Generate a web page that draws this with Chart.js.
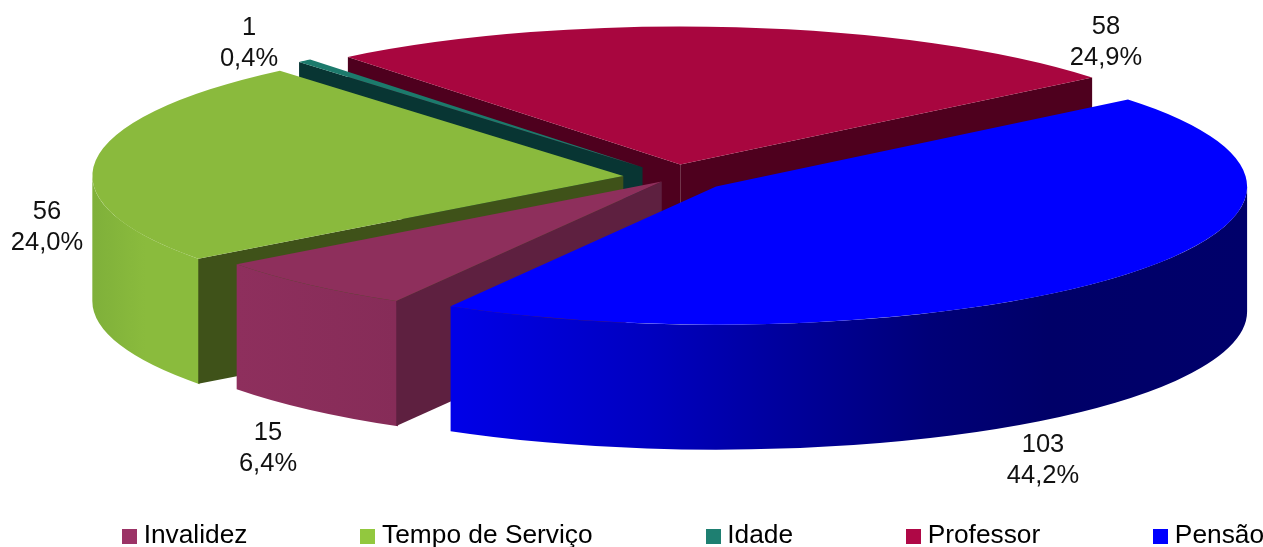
<!DOCTYPE html>
<html><head><meta charset="utf-8">
<style>html,body{margin:0;padding:0;background:#fff}canvas{display:block}</style>
<script src="https://cdn.jsdelivr.net/npm/chart.js@4"></script>
</head><body>
<div style="width:1263px;height:547px"><canvas id="c" width="1263" height="547"></canvas></div>
<script>
const categories = ['Invalidez','Tempo de Serviço','Idade','Professor','Pensão'];
const values = [15,56,1,58,103];
const topColors = ['#8E2F5C','#8ABA3D','#1C7A6C','#A8063F','#0000FF'];
const legendColors = ['#9B3366','#92C83E','#1E7F71','#AF0846','#0000FF'];
const cutColors = ['#5E2040','#3F5219','#083533','#4E001E','#00006E'];
const wallStops = [
  [[0,'#8E2F5D'],[1,'#862C58']],
  [[0,'#7FB03A'],[0.5,'#8ABB3D'],[1,'#8ABB3D']],
  [[0,'#1C7A6C'],[1,'#1C7A6C']],
  [[0,'#A8063F'],[1,'#A8063F']],
  [[0,'#0000E8'],[0.25,'#0000C0'],[0.4,'#0000A0'],[0.6,'#000078'],[0.75,'#000068'],[1,'#00006A']]
];
const explode = [20,52,51,50,54];
const drawOrder = [3,2,1,0,4];
const labelPos = [[268,433],[47,212],[249,28],[1106,27],[1043,445]];
const pieCenter = [675,177.5];
const squash = 0.26, depth = 125, outerR = 531;
const total = values.reduce((a,b)=>a+b,0);
const FONT = '"Liberation Sans", Arial, sans-serif';

function tile(color){
  const t=document.createElement('canvas');t.width=15;t.height=15;
  const g=t.getContext('2d');g.fillStyle=color;g.fillRect(0,0,15,15);return t;
}

const pie3d = {
  id:'pie3d',
  afterLayout(chart){ chart.legend.top = 527 - 119.5 - 4; },
  beforeDatasetsDraw(chart){
    const ctx=chart.ctx, arcs=chart.getDatasetMeta(0).data;
    drawOrder.forEach(i=>{
      const arc=arcs[i];
      const {startAngle:a,endAngle:b,outerRadius:R,x,y}=arc;
      const mid=(a+b)/2, d=explode[i];
      const cx=pieCenter[0]+Math.cos(mid)*d, cy=pieCenter[1]+Math.sin(mid)*d*squash;
      const ry=R*squash;
      const a0=Math.atan2(Math.sin(a),Math.cos(a)), sweep=b-a;
      const showStart=Math.cos(a)<0, showEnd=Math.cos(b)>0;
      const lo=Math.max(a0,0), hi=Math.min(a0+sweep,Math.PI);
      if(hi>lo){
        const lo2=(showStart&&lo===a0)?lo-0.004:lo;
        const hi2=(showEnd&&hi===a0+sweep)?hi+0.004:hi;
        const g=ctx.createLinearGradient(cx+R*Math.cos(hi),0,cx+R*Math.cos(lo),0);
        wallStops[i].forEach(s=>g.addColorStop(s[0],s[1]));
        ctx.beginPath();
        ctx.ellipse(cx,cy,R,ry,0,lo2,hi2);
        ctx.ellipse(cx,cy+depth,R,ry,0,hi2,lo2,true);
        ctx.closePath();ctx.fillStyle=g;ctx.fill();
      }
      const face=(ang)=>{
        const px=cx+R*Math.cos(ang), py=cy+ry*Math.sin(ang);
        ctx.beginPath();ctx.moveTo(cx,cy);ctx.lineTo(px,py);ctx.lineTo(px,py+depth);ctx.lineTo(cx,cy+depth);ctx.closePath();
        ctx.fillStyle=cutColors[i];ctx.fill();
      };
      if(showStart) face(a);
      if(showEnd) face(b);
      ctx.save();
      ctx.translate(cx,cy);ctx.scale(1,squash);ctx.translate(-x,-y);
      arc.draw(ctx);
      ctx.restore();
    });
    return false;
  },
  afterDraw(chart){
    const ctx=chart.ctx;
    ctx.save();
    ctx.fillStyle='#111';ctx.font='25.5px '+FONT;ctx.textAlign='center';ctx.textBaseline='middle';
    values.forEach((v,i)=>{
      const pct=(v/total*100).toFixed(1).replace('.',',')+'%';
      ctx.fillText(String(v),labelPos[i][0],labelPos[i][1]);
      ctx.fillText(pct,labelPos[i][0],labelPos[i][1]+31);
    });
    ctx.restore();
  }
};

new Chart(document.getElementById('c'),{
  type:'pie',
  data:{labels:categories,datasets:[{data:values,backgroundColor:topColors,borderWidth:0,radius:outerR}]},
  options:{
    responsive:false,animation:false,
    rotation:210,
    events:[],
    layout:{padding:{left:9,right:-140,top:0,bottom:0}},
    plugins:{
      tooltip:{enabled:false},
      legend:{position:'bottom',align:'start',
        labels:{
          font:{family:FONT,size:26.3},color:'#111',padding:119.5,
          usePointStyle:true,boxWidth:2,boxHeight:15,
          generateLabels:()=>categories.map((t,i)=>({text:t,fillStyle:legendColors[i],strokeStyle:legendColors[i],lineWidth:0,pointStyle:tile(legendColors[i]),index:i,hidden:false}))
        }}
    }
  },
  plugins:[pie3d]
});
</script>
</body></html>
